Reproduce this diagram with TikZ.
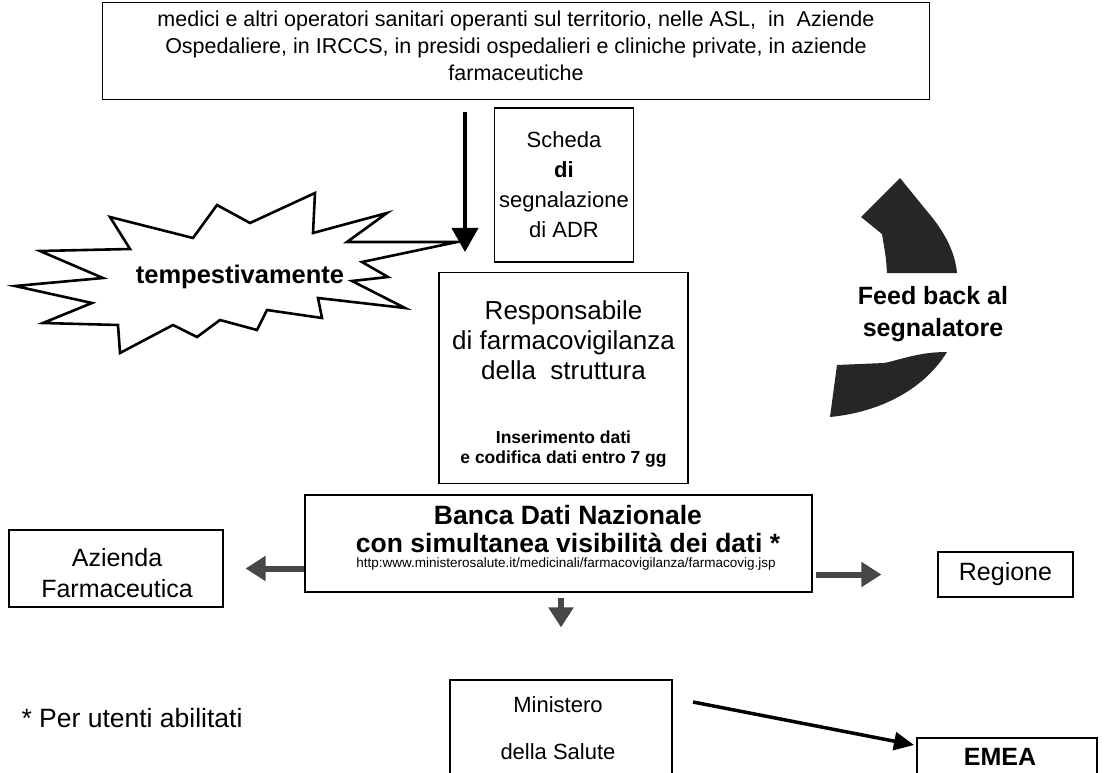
\documentclass[tikz,border=0pt]{standalone}
\usepackage{fontspec}
\setmainfont{Liberation Sans}
\usetikzlibrary{arrows.meta}

\begin{document}
\begin{tikzpicture}[x=1pt,y=-1pt]

\tikzset{box/.style = {draw, line width=1.1pt, inner sep=0pt, align=center}}
\tikzset{fat/.style = {line width=6pt, black!72, -{Triangle[length=20pt,width=24pt]}}}
\tikzset{blk/.style = {line width=4pt, -{Triangle[length=24pt,width=26pt]}}}
\useasboundingbox (0,0) rectangle (1104,773);
%boxes
\node[box, minimum width=827pt, minimum height=97pt] (operatori) at (516,51) {};
\node[align=center, font=\fontsize{21.5}{27}\selectfont] (operatoritesto) at (516,46) {medici e altri operatori sanitari operanti sul territorio, nelle ASL,\ \ in\ \ Aziende\\ Ospedaliere, in IRCCS, in presidi ospedalieri e cliniche private, in aziende\\ farmaceutiche};
\node[box, minimum width=139pt, minimum height=154pt, font=\fontsize{22}{30}\selectfont] (scheda) at (564,185) {Scheda\\ \textbf{di}\\ segnalazione\\ di ADR};
\node[box, minimum width=249pt, minimum height=211pt] (resp) at (563.5,378) {};
\node[align=center, font=\fontsize{26}{30}\selectfont] (resptitolo) at (563.5,340) {Responsabile\\ di farmacovigilanza\\ della\ \ struttura};
\node[align=center, font=\bfseries\fontsize{17.5}{20}\selectfont] (respnota) at (563.5,449) {Inserimento dati\\ e codifica dati entro 7 gg};
\node[box, minimum width=507pt, minimum height=97pt] (banca) at (558.5,543.5) {};
\node[align=center, font=\bfseries\fontsize{26.5}{28}\selectfont] (bancatitolo) at (568,529) {Banca Dati Nazionale\\ con simultanea visibilità dei dati *};
\node[font=\fontsize{13.5}{15}\selectfont] (url) at (566,564) {http:www.ministerosalute.it/medicinali/farmacovigilanza/farmacovig.jsp};
\node[box, minimum width=214pt, minimum height=77pt] (azienda) at (116,568.5) {};
\node[align=center, font=\fontsize{25}{31}\selectfont] (aziendatesto) at (117,573) {Azienda\\ Farmaceutica};
\node[box, minimum width=135pt, minimum height=45pt, font=\fontsize{25}{30}\selectfont] (regione) at (1005.5,574.5) {Regione};
\node[box, minimum width=222pt, minimum height=120pt] (ministero) at (561,740) {};
\node[align=center, font=\fontsize{22}{47}\selectfont] (ministerotesto) at (558,728.5) {Ministero\\ della Salute};
\node[box, minimum width=180pt, minimum height=70pt] (emea) at (1007,773) {};
\node[font=\bfseries\fontsize{25}{30}\selectfont] (emeatesto) at (1000,757) {EMEA};
\node[anchor=west, font=\fontsize{26.5}{30}\selectfont] (nota) at (18,718) {* Per utenti abilitati};

%starburst
\draw[line width=2.6pt, line join=miter] (110,217) -- (193,238) -- (217,205) -- (250,223) -- (315,193) -- (313,233) -- (387,213) -- (347,242) -- (457,242) -- (362,262) -- (388,277) -- (352,281) -- (405,308) -- (318,298) -- (322,318) -- (267,310) -- (257,330) -- (220,320) -- (197,337) -- (173,325) -- (120,353) -- (118,325) -- (43,323) -- (92,303) -- (15,286) -- (103,278) -- (40,251) -- (130,249) -- cycle;
\node[font=\bfseries\fontsize{25.5}{30}\selectfont] (tempestivamente) at (240,277) {tempestivamente};

%feed back
\fill[black!85] (900,178) -- (926,210) .. controls (945,232) and (955,252) .. (957,273) -- (887,273) .. controls (886,258) .. (882,234) -- (861,217) -- cycle;
\fill[black!85] (837,365) -- (830,417) .. controls (882,412) and (925,388) .. (947,352) .. controls (918,352) and (900,360) .. (884,363) -- cycle;
\node[align=center, font=\bfseries\fontsize{25}{32}\selectfont] (feedback) at (933,314) {Feed back al\\ segnalatore};

%arrows
\coordinate (giu) at (465,252);
\draw[blk, shorten <=12pt] (operatori.south -| giu) -- (giu);
\draw[fat, shorten >=22pt] (banca.west |- azienda.east) -- (azienda.east);
\draw[fat, shorten <=3pt, shorten >=56pt] (banca.east |- regione.west) -- (regione.west);
\draw[fat, shorten <=5pt, shorten >=52pt] (ministero.north |- banca.south) -- (ministero.north);
\coordinate (m1) at (693,702);
\coordinate (e1) at (914,745);
\draw[line width=3.5pt, -{Triangle[length=20pt,width=18pt]}] (m1) -- (e1);

\end{tikzpicture}
\end{document}
